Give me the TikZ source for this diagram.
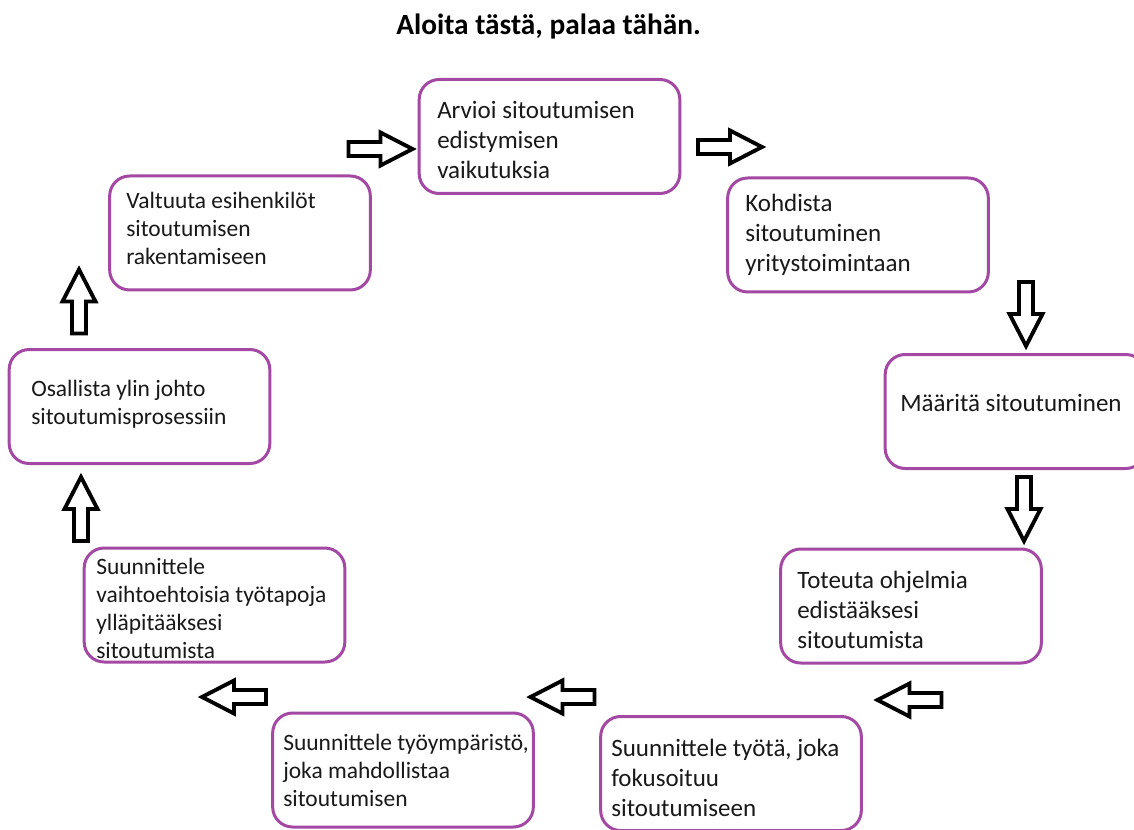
\documentclass[tikz,border=0pt]{standalone}
\usepackage{fontspec}
\setmainfont{Carlito}
\definecolor{boxpurple}{RGB}{163,73,164}
\definecolor{txtcol}{RGB}{25,25,25}
\begin{document}
\begin{tikzpicture}[x=0.75pt,y=-0.75pt,
  box/.style={draw=boxpurple, line width=2.25pt, rounded corners=15pt, inner sep=0pt,
    minimum width=195.5pt, minimum height=85.5pt, fill=white},
  txtA/.style={font=\fontsize{18.75pt}{22.5pt}\selectfont, text=txtcol, align=left, inner sep=0pt, anchor=west},
  txtB/.style={font=\fontsize{17.6pt}{21pt}\selectfont, text=txtcol, align=left, inner sep=0pt, anchor=west},
  ttl/.style={font=\fontsize{22pt}{26pt}\selectfont\bfseries, text=black, inner sep=0pt},
  arrowline/.style={draw=black, fill=white, line width=2.9pt, line join=miter},
  barrow/.pic={\path[arrowline] (-32,-7) -- (0,-7) -- (0,-16.5) -- (32,0) -- (0,16.5) -- (0,7) -- (-32,7) -- cycle;}
]
\clip (0,0) rectangle (1134,830);
\fill[white] (0,0) rectangle (1134,830);

\node[ttl] (title) at (548.5,27) {Aloita tästä, palaa tähän.};

% boxes
\node[box] (b1) at (549.5,136.5) {};
\node[box] (b2) at (858,235) {};
\node[box] (b3) at (1015.5,411.5) {};
\node[box] (b4) at (911,606) {};
\node[box] (b5) at (731,773.5) {};
\node[box] (b6) at (403,770) {};
\node[box] (b7) at (214.5,605) {};
\node[box] (b8) at (139.5,406.5) {};
\node[box] (b9) at (240,233) {};

% texts
\node[txtA] (t1) at (437,140) {Arvioi sitoutumisen\\edistymisen\\vaikutuksia};
\node[txtA] (t2) at (745,235) {Kohdista\\sitoutuminen\\yritystoimintaan};
\node[txtA] (t3) at (900,403) {Määritä sitoutuminen};
\node[txtA] (t4) at (797,610) {Toteuta ohjelmia\\edistääksesi\\sitoutumista};
\node[txtA] (t5) at (611,778) {Suunnittele työtä, joka\\fokusoituu\\sitoutumiseen};
\node[txtB] (t6) at (283,770) {Suunnittele työympäristö,\\joka mahdollistaa\\sitoutumisen};
\node[txtB] (t7) at (96,608) {Suunnittele\\vaihtoehtoisia työtapoja\\ylläpitääksesi\\sitoutumista};
\node[txtB] (t8) at (31,404) {Osallista ylin johto\\sitoutumisprosessiin};
\node[txtB] (t9) at (126,228) {Valtuuta esihenkilöt\\sitoutumisen\\rakentamiseen};

% block arrows
\pic at (380.5,149) {barrow};
\pic at (730,147) {barrow};
\pic[rotate=-90] at (1026,314) {barrow};
\pic[rotate=-90] at (1024,509) {barrow};
\pic[rotate=180] at (909.5,700) {barrow};
\pic[rotate=180] at (562.5,697) {barrow};
\pic[rotate=180] at (234,697) {barrow};
\pic[rotate=90] at (81,509) {barrow};
\pic[rotate=90] at (79,301.5) {barrow};
\end{tikzpicture}
\end{document}
